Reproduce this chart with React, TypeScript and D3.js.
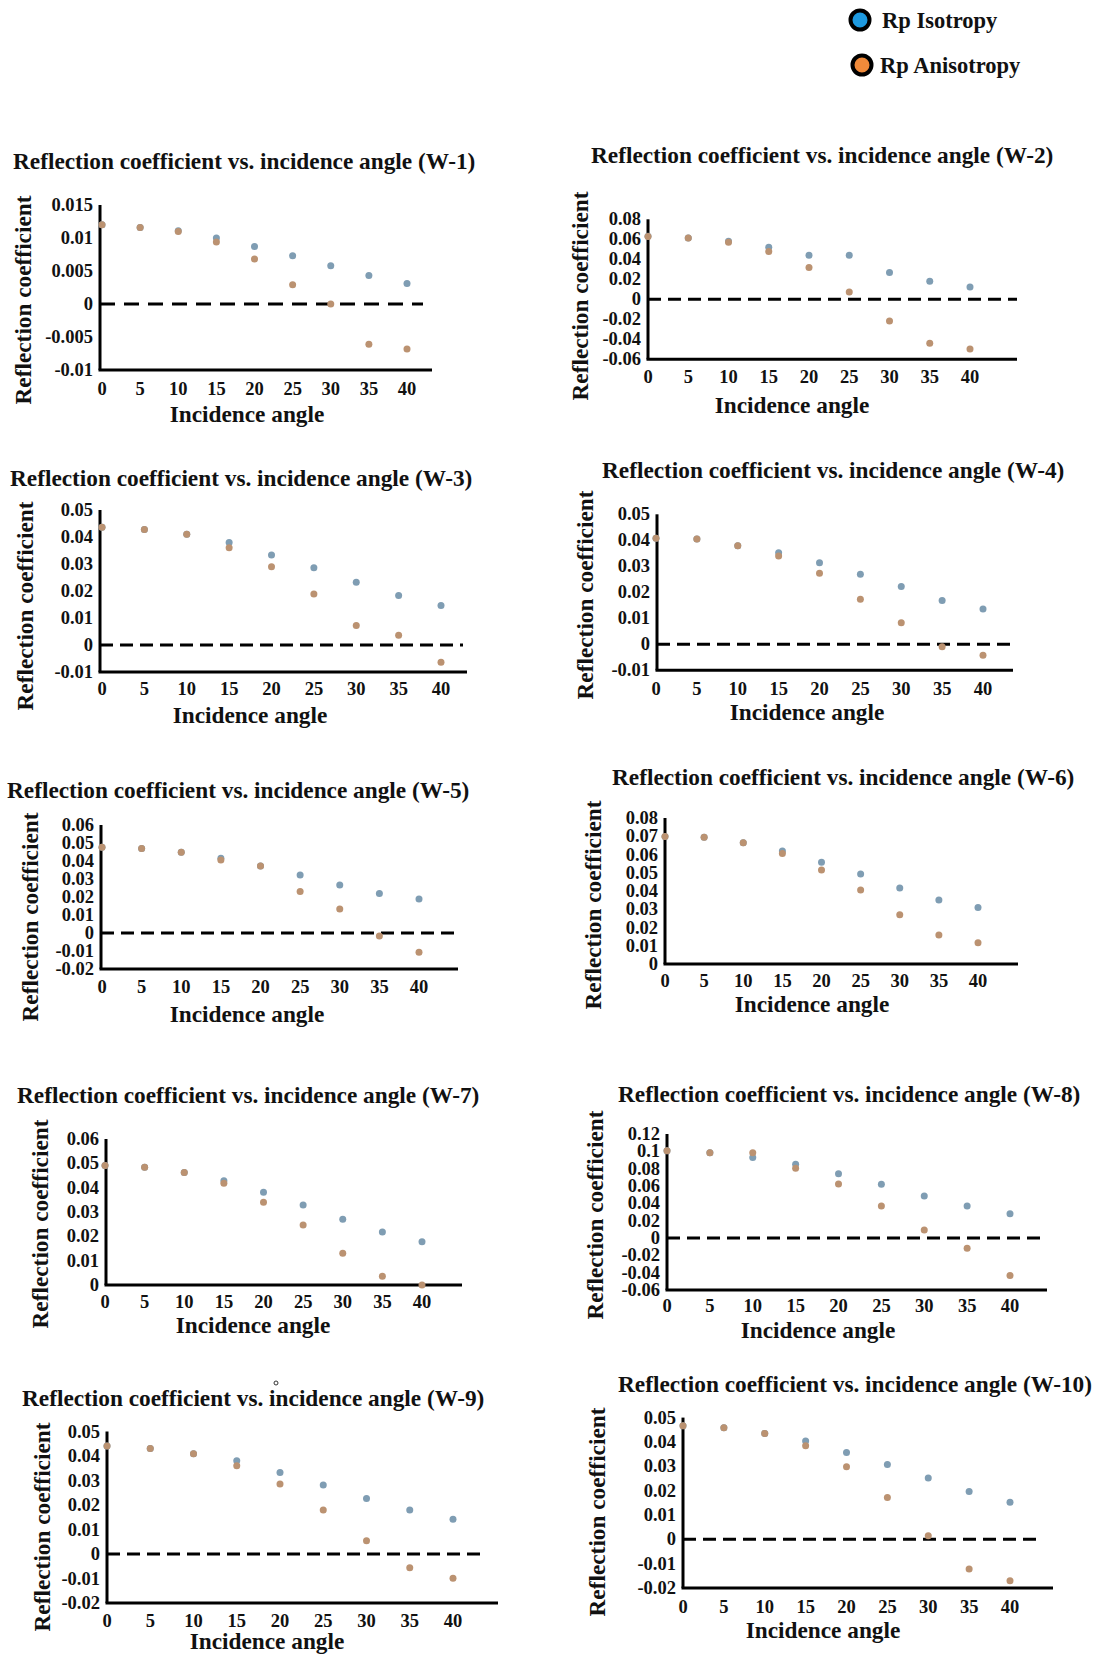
import React from "react";
import * as d3 from "d3";

// ---------- data ----------
const angles = [0, 5, 10, 15, 20, 25, 30, 35, 40];
const xTickLabels = ["0", "5", "10", "15", "20", "25", "30", "35", "40"];
const seriesNames = ["Rp Isotropy", "Rp Anisotropy"];

const isoW1 = [0.012, 0.0116, 0.0111, 0.01, 0.0087, 0.0073, 0.0058, 0.0043, 0.0031];
const anisoW1 = [0.012, 0.0116, 0.011, 0.0094, 0.0068, 0.0029, 0.0, -0.0061, -0.0068];
const isoW2 = [0.063, 0.0613, 0.058, 0.052, 0.044, 0.044, 0.0267, 0.018, 0.0123];
const anisoW2 = [0.0627, 0.0613, 0.057, 0.0477, 0.0317, 0.0073, -0.0217, -0.044, -0.0497];
const isoW3 = [0.0436, 0.0428, 0.041, 0.038, 0.0333, 0.0286, 0.0232, 0.0183, 0.0146];
const anisoW3 = [0.0436, 0.0428, 0.041, 0.036, 0.029, 0.0189, 0.0072, 0.0036, -0.0064];
const isoW4 = [0.0408, 0.0405, 0.0379, 0.0352, 0.0314, 0.0269, 0.0222, 0.0168, 0.0136];
const anisoW4 = [0.0408, 0.0405, 0.0379, 0.034, 0.0273, 0.0173, 0.0083, -0.0009, -0.0042];
const isoW5 = [0.0476, 0.047, 0.0448, 0.0415, 0.0372, 0.0322, 0.0267, 0.022, 0.0189];
const anisoW5 = [0.0476, 0.047, 0.0448, 0.0406, 0.0372, 0.023, 0.0133, -0.0017, -0.0107];
const isoW6 = [0.0698, 0.0694, 0.0665, 0.0619, 0.0557, 0.0493, 0.0416, 0.0351, 0.0309];
const anisoW6 = [0.0698, 0.0694, 0.0665, 0.0606, 0.0515, 0.0405, 0.027, 0.0159, 0.0117];
const isoW7 = [0.0491, 0.0484, 0.0462, 0.0428, 0.0381, 0.0329, 0.027, 0.0218, 0.0178];
const anisoW7 = [0.0491, 0.0484, 0.0462, 0.0418, 0.034, 0.0247, 0.013, 0.0036, 0.0];
const isoW8 = [0.1006, 0.0983, 0.0929, 0.0852, 0.074, 0.062, 0.0486, 0.037, 0.0281];
const anisoW8 = [0.1006, 0.0983, 0.0983, 0.0806, 0.0624, 0.037, 0.0092, -0.0119, -0.0432];
const isoW9 = [0.0441, 0.0431, 0.0409, 0.0381, 0.0333, 0.0282, 0.0227, 0.018, 0.0142];
const anisoW9 = [0.0441, 0.0431, 0.0409, 0.036, 0.0286, 0.018, 0.0054, -0.0056, -0.0099];
const isoW10 = [0.0467, 0.0458, 0.0435, 0.0404, 0.0357, 0.0307, 0.0252, 0.0196, 0.0152];
const anisoW10 = [0.0467, 0.0458, 0.0435, 0.0384, 0.0298, 0.0172, 0.0015, -0.0122, -0.017];

const yTicksW1 = [0.015, 0.01, 0.005, 0, -0.005, -0.01];
const yLabelsW1 = ["0.015", "0.01", "0.005", "0", "-0.005", "-0.01"];
const yTicksW2 = [0.08, 0.06, 0.04, 0.02, 0, -0.02, -0.04, -0.06];
const yLabelsW2 = ["0.08", "0.06", "0.04", "0.02", "0", "-0.02", "-0.04", "-0.06"];
const yTicks05 = [0.05, 0.04, 0.03, 0.02, 0.01, 0, -0.01];
const yLabels05 = ["0.05", "0.04", "0.03", "0.02", "0.01", "0", "-0.01"];
const yTicksW5 = [0.06, 0.05, 0.04, 0.03, 0.02, 0.01, 0, -0.01, -0.02];
const yLabelsW5 = ["0.06", "0.05", "0.04", "0.03", "0.02", "0.01", "0", "-0.01", "-0.02"];
const yTicksW6 = [0.08, 0.07, 0.06, 0.05, 0.04, 0.03, 0.02, 0.01, 0];
const yLabelsW6 = ["0.08", "0.07", "0.06", "0.05", "0.04", "0.03", "0.02", "0.01", "0"];
const yTicksW7 = [0.06, 0.05, 0.04, 0.03, 0.02, 0.01, 0];
const yLabelsW7 = ["0.06", "0.05", "0.04", "0.03", "0.02", "0.01", "0"];
const yTicksW8 = [0.12, 0.1, 0.08, 0.06, 0.04, 0.02, 0, -0.02, -0.04, -0.06];
const yLabelsW8 = ["0.12", "0.1", "0.08", "0.06", "0.04", "0.02", "0", "-0.02", "-0.04", "-0.06"];
const yTicks0502 = [0.05, 0.04, 0.03, 0.02, 0.01, 0, -0.01, -0.02];
const yLabels0502 = ["0.05", "0.04", "0.03", "0.02", "0.01", "0", "-0.01", "-0.02"];

// ---------- layout ----------
const panels = [
  { name: "W-1", iso: isoW1, aniso: anisoW1, ticks: yTicksW1, labels: yLabelsW1, yd: [-0.01, 0.015], yr: [370, 205], axisX: 100, x0: 102, x40: 407, xEnd: 432, tx: 13, ty: 169, tickY: 395, xtx: 247, xty: 422, ytx: 23, yty: 300, dashEnd: 423, dash: "15,9" },
  { name: "W-2", iso: isoW2, aniso: anisoW2, ticks: yTicksW2, labels: yLabelsW2, yd: [-0.06, 0.08], yr: [359.3, 219.3], axisX: 648, x0: 648, x40: 970, xEnd: 1017, tx: 591, ty: 163, tickY: 383, xtx: 792, xty: 413, ytx: 580, yty: 296, dashEnd: 1017, dash: "13,7" },
  { name: "W-3", iso: isoW3, aniso: anisoW3, ticks: yTicks05, labels: yLabels05, yd: [-0.01, 0.05], yr: [672, 510], axisX: 100, x0: 102, x40: 441, xEnd: 467, tx: 10, ty: 486, tickY: 695, xtx: 250, xty: 723, ytx: 25, yty: 606, dashEnd: 463, dash: "13,7" },
  { name: "W-4", iso: isoW4, aniso: anisoW4, ticks: yTicks05, labels: yLabels05, yd: [-0.01, 0.05], yr: [670.3, 514.3], axisX: 657, x0: 656, x40: 983, xEnd: 1013, tx: 602, ty: 478, tickY: 695, xtx: 807, xty: 720, ytx: 585, yty: 595, dashEnd: 1013, dash: "13,7" },
  { name: "W-5", iso: isoW5, aniso: anisoW5, ticks: yTicksW5, labels: yLabelsW5, yd: [-0.02, 0.06], yr: [969, 825], axisX: 101, x0: 102, x40: 419, xEnd: 458, tx: 7, ty: 798, tickY: 993, xtx: 247, xty: 1022, ytx: 30, yty: 917, dashEnd: 458, dash: "13,7" },
  { name: "W-6", iso: isoW6, aniso: anisoW6, ticks: yTicksW6, labels: yLabelsW6, yd: [0, 0.08], yr: [964, 818], axisX: 665, x0: 665, x40: 978, xEnd: 1018, tx: 612, ty: 785, tickY: 987, xtx: 812, xty: 1012, ytx: 593, yty: 905, dashEnd: null, dash: "" },
  { name: "W-7", iso: isoW7, aniso: anisoW7, ticks: yTicksW7, labels: yLabelsW7, yd: [0, 0.06], yr: [1285, 1139], axisX: 106, x0: 105, x40: 422, xEnd: 462, tx: 17, ty: 1103, tickY: 1308, xtx: 253, xty: 1333, ytx: 40, yty: 1224, dashEnd: null, dash: "" },
  { name: "W-8", iso: isoW8, aniso: anisoW8, ticks: yTicksW8, labels: yLabelsW8, yd: [-0.06, 0.12], yr: [1290, 1134], axisX: 667, x0: 667, x40: 1010, xEnd: 1047, tx: 618, ty: 1102, tickY: 1312, xtx: 818, xty: 1338, ytx: 595, yty: 1215, dashEnd: 1045, dash: "13,7" },
  { name: "W-9", iso: isoW9, aniso: anisoW9, ticks: yTicks0502, labels: yLabels0502, yd: [-0.02, 0.05], yr: [1603, 1431.5], axisX: 107, x0: 107, x40: 453, xEnd: 498, tx: 22, ty: 1406, tickY: 1627, xtx: 267, xty: 1649, ytx: 42, yty: 1527, dashEnd: 485, dash: "13,7" },
  { name: "W-10", iso: isoW10, aniso: anisoW10, ticks: yTicks0502, labels: yLabels0502, yd: [-0.02, 0.05], yr: [1588, 1417.6], axisX: 683, x0: 683, x40: 1010, xEnd: 1053, tx: 618, ty: 1392, tickY: 1613, xtx: 823, xty: 1638, ytx: 597, yty: 1512, dashEnd: 1043, dash: "13,7" },
];

const FONT = "'Liberation Serif', 'Times New Roman', serif";
const ISO_COLOR = "#7f9db3";
const ANISO_COLOR = "#bb9271";
const TITLE_SIZE = 23.3;
const AXIS_TITLE_SIZE = 23.3;
const TICK_SIZE = 18.5;

function Panel({ p }: { p: any }) {
  const x = d3.scaleLinear().domain([0, 40]).range([p.x0, p.x40]);
  const y = d3.scaleLinear().domain(p.yd).range(p.yr);
  const yBottom = y(p.yd[0]);
  const yTop = y(p.yd[1]);
  return (
    <g>
      <text x={p.tx} y={p.ty} fontFamily={FONT} fontWeight="bold" fontSize={TITLE_SIZE} fill="#111">
        {`Reflection coefficient vs. incidence angle (${p.name})`}
      </text>
      {p.ticks.map((t: number, i: number) => (
        <text key={"yt" + i} x={p.axisX - 7} y={y(t)} textAnchor="end" dominantBaseline="central"
          fontFamily={FONT} fontWeight="bold" fontSize={TICK_SIZE} fill="#111">{p.labels[i]}</text>
      ))}
      {angles.map((a, i) => (
        <text key={"xt" + i} x={x(a)} y={p.tickY} textAnchor="middle"
          fontFamily={FONT} fontWeight="bold" fontSize={TICK_SIZE} fill="#111">{xTickLabels[i]}</text>
      ))}
      <text x={p.xtx} y={p.xty} textAnchor="middle" fontFamily={FONT} fontWeight="bold" fontSize={AXIS_TITLE_SIZE} fill="#111">Incidence angle</text>
      <text transform={`translate(${p.ytx},${p.yty}) rotate(-90)`} textAnchor="middle" dominantBaseline="central"
        fontFamily={FONT} fontWeight="bold" fontSize={AXIS_TITLE_SIZE} fill="#111">Reflection coefficient</text>
      {p.dashEnd !== null && (
        <line x1={p.axisX} x2={p.dashEnd} y1={y(0)} y2={y(0)} stroke="#000" strokeWidth={3} strokeDasharray={p.dash} />
      )}
      <line x1={p.axisX} x2={p.axisX} y1={yBottom} y2={yTop} stroke="#000" strokeWidth={3} />
      <line x1={p.axisX - 1.5} x2={p.xEnd} y1={yBottom} y2={yBottom} stroke="#000" strokeWidth={3} />
      {p.iso.map((v: number, i: number) => (
        <circle key={"i" + i} cx={x(angles[i])} cy={y(v)} r={3.5} fill={ISO_COLOR} />
      ))}
      {p.aniso.map((v: number, i: number) => (
        <circle key={"a" + i} cx={x(angles[i])} cy={y(v)} r={3.5} fill={ANISO_COLOR} />
      ))}
    </g>
  );
}

export default function App() {
  return (
    <div style={{ position: "absolute", left: 0, top: 0, width: 1100, height: 1656, background: "#fff" }}>
      <svg width={1100} height={1656} style={{ display: "block" }}>
        <rect x={0} y={0} width={1100} height={1656} fill="#fff" />
        <circle cx={860} cy={20} r={9.5} fill="#1e9ae0" stroke="#000" strokeWidth={4} />
        <text x={882} y={28} fontFamily={FONT} fontWeight="bold" fontSize={22.5} fill="#111">{seriesNames[0]}</text>
        <circle cx={862} cy={65} r={9.5} fill="#f08a3a" stroke="#000" strokeWidth={4} />
        <text x={880} y={73} fontFamily={FONT} fontWeight="bold" fontSize={22.5} fill="#111">{seriesNames[1]}</text>
        {panels.map((p) => (
          <Panel key={p.name} p={p} />
        ))}
        <circle cx={276} cy={1383} r={2} fill="none" stroke="#333" strokeWidth={1} />
      </svg>
    </div>
  );
}
